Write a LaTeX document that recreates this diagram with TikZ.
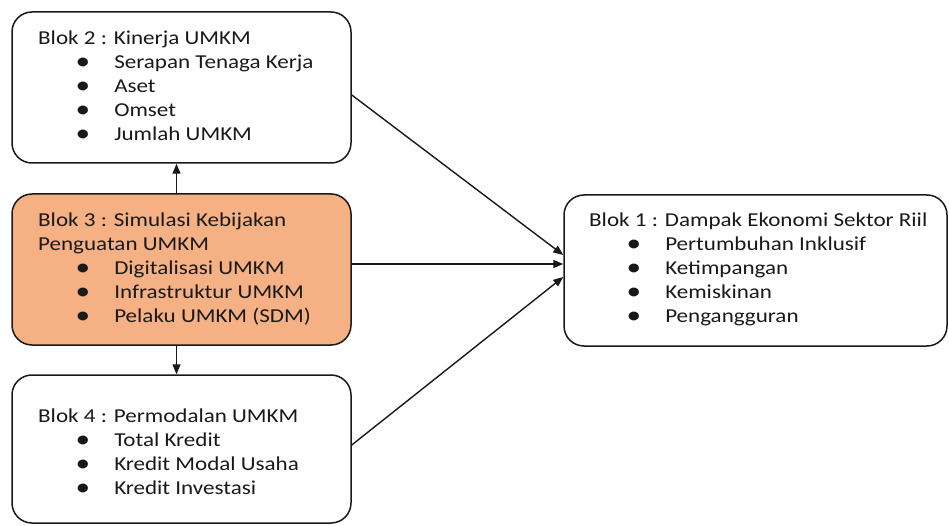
\documentclass[tikz,border=0pt]{standalone}
\usepackage{fontspec}
\setmainfont{Carlito}
\usetikzlibrary{arrows.meta,calc}
\definecolor{boxorange}{RGB}{245,177,131}
\definecolor{ink}{RGB}{25,25,25}
\newcommand{\bul}[1]{\hspace*{32pt}\makebox[33pt][l]{\raisebox{-0.5pt}{\fontsize{25}{24}\selectfont\textbullet}}#1}
\newcommand{\blocktext}[1]{\scalebox{1.17}[1]{\begin{tabular}[t]{@{}l@{}}#1\end{tabular}}}
\begin{document}
\begin{tikzpicture}[x=1pt,y=-1pt,
  box/.style={draw=ink, line width=1.5pt, rounded corners=20pt, inner sep=0pt, fill=white},
  txt/.style={inner sep=0pt, anchor=base west, font=\fontsize{19.7}{24}\selectfont, text=ink},
  arr/.style={draw=ink, line width=1.4pt, -{Triangle[length=10pt,width=8pt]}}]
\fill[white] (0,0) rectangle (949,526);
\useasboundingbox (0,0) rectangle (949,526);

\node[box, minimum width=339pt, minimum height=151pt] (b2) at (181.5,87.5) {};
\node[box, fill=boxorange, minimum width=339pt, minimum height=151pt] (b3) at (181.5,269.5) {};
\node[box, minimum width=339pt, minimum height=148pt] (b4) at (181.5,449) {};
\node[box, minimum width=383pt, minimum height=151pt] (b1) at (755.5,270.5) {};

\node[txt] (t2) at (38,45) {\blocktext{Blok 2 : Kinerja UMKM\\ \bul{Serapan Tenaga Kerja}\\ \bul{Aset}\\ \bul{Omset}\\ \bul{Jumlah UMKM}}};
\node[txt] (t3) at (38,227) {\blocktext{Blok 3 : Simulasi Kebijakan\\ Penguatan UMKM\\ \bul{Digitalisasi UMKM}\\ \bul{Infrastruktur UMKM}\\ \bul{Pelaku UMKM (SDM)}}};
\node[txt] (t4) at (38,422.5) {\blocktext{Blok 4 : Permodalan UMKM\\ \bul{Total Kredit}\\ \bul{Kredit Modal Usaha}\\ \bul{Kredit Investasi}}};
\node[txt] (t1) at (589,227) {\blocktext{Blok 1 : Dampak Ekonomi Sektor Riil\\ \bul{Pertumbuhan Inklusif}\\ \bul{Ketimpangan}\\ \bul{Kemiskinan}\\ \bul{Pengangguran}}};

\draw[arr] ([xshift=-5pt]b3.north) -- ([xshift=-5pt]b2.south);
\draw[arr] ([xshift=-5pt]b3.south) -- ([xshift=-5pt]b4.north);
\draw[arr] ([yshift=-7.5pt]b2.east) -- ([yshift=15.5pt]b1.west);
\draw[arr] ([yshift=5.5pt]b3.east) -- ([yshift=5.5pt]b3.east -| b1.west);
\draw[arr] ([yshift=4pt]b4.east) -- ([yshift=-6.5pt]b1.west);
\end{tikzpicture}
\end{document}
